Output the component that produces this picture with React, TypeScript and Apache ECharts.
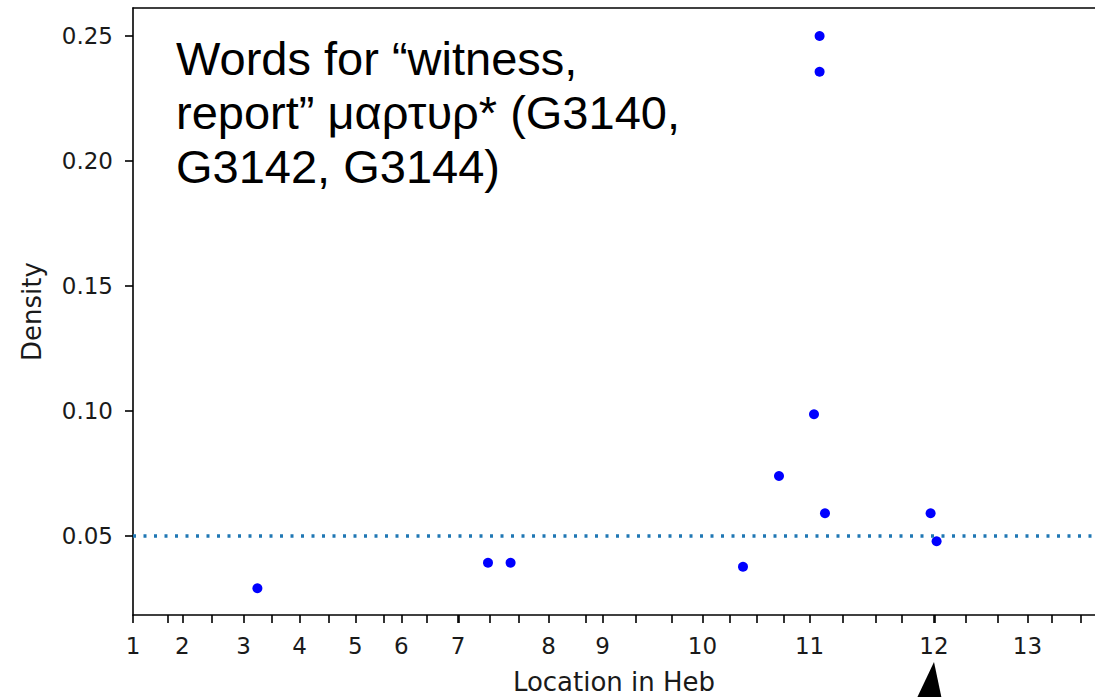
import React, { useEffect, useRef } from "react";
import * as echarts from "echarts";

// Chapter boundaries of Hebrews along the location axis (word index)
const chapterLabels = ["1", "2", "3", "4", "5", "6", "7", "8", "9", "10", "11", "12", "13"];
const chapterStarts = [0, 247, 553, 833, 1112, 1342, 1625, 2078, 2348, 2847, 3383, 4005, 4472];
// Section boundaries (minor ticks)
const sectionStarts = [172, 392, 692, 978, 1255, 1467, 1631, 1784, 1929, 2264, 2512, 2692, 2983, 3117, 3255, 3550, 3714, 3842, 4011, 4162, 4325, 4595, 4739];

// Occurrences: location and local density
const locations = [622, 1775, 1888, 3050, 3230, 3405, 3433, 3433, 3460, 3988, 4018];
const densities = [0.0291, 0.0393, 0.0393, 0.0377, 0.074, 0.0987, 0.25, 0.2357, 0.0591, 0.0591, 0.0479];

const referenceDensity = 0.0495;
const yTicks = [0.05, 0.1, 0.15, 0.2, 0.25];
const annotationLines = ["Words for “witness,", "report” μαρτυρ* (G3140,", "G3142, G3144)"];

const X_MIN = 0;
const X_MAX = 4810;
const Y_MIN = 0.0184;
const Y_MAX = 0.2612;

export default function App() {
  const ref = useRef<HTMLDivElement>(null);

  useEffect(() => {
    if (!ref.current) return;
    const chart = echarts.init(ref.current, undefined, { renderer: "svg" });
    const tickFont = { fontFamily: "DejaVu Sans", fontSize: 23, color: "#1a1a1a" };
    const points = locations.map((x, i) => [x, densities[i]]);

    chart.setOption({
      animation: false,
      backgroundColor: "#fff",
      grid: { left: 133, top: 8, right: 0, bottom: 82, outerBoundsMode: "none" },
      xAxis: [
        {
          type: "value",
          position: "bottom",
          min: X_MIN,
          max: X_MAX,
          splitLine: { show: false },
          axisLine: { show: true, onZero: false, lineStyle: { color: "#000", width: 1.6 } },
          axisTick: { show: true, customValues: chapterStarts, length: 8, lineStyle: { color: "#000", width: 1.6 } },
          axisLabel: {
            show: true,
            customValues: chapterStarts,
            margin: 19,
            ...tickFont,
            formatter: (v: number) => {
              let best = 0;
              chapterStarts.forEach((c, i) => {
                if (Math.abs(c - v) < Math.abs(chapterStarts[best] - v)) best = i;
              });
              return chapterLabels[best];
            },
          },
          name: "Location in Heb",
          nameLocation: "middle",
          nameGap: 54,
          nameTextStyle: { fontFamily: "DejaVu Sans", fontSize: 26, color: "#1a1a1a" },
        },
        {
          type: "value",
          position: "bottom",
          min: X_MIN,
          max: X_MAX,
          splitLine: { show: false },
          axisLine: { show: false, onZero: false },
          axisTick: { show: true, customValues: sectionStarts, length: 8, lineStyle: { color: "#000", width: 1.6 } },
          axisLabel: { show: false },
        },
        {
          type: "value",
          position: "top",
          min: X_MIN,
          max: X_MAX,
          splitLine: { show: false },
          axisLine: { show: true, onZero: false, lineStyle: { color: "#000", width: 1.6 } },
          axisTick: { show: false },
          axisLabel: { show: false },
        },
      ],
      yAxis: {
        type: "value",
        min: Y_MIN,
        max: Y_MAX,
        splitLine: { show: false },
        axisLine: { show: true, onZero: false, lineStyle: { color: "#000", width: 1.6 } },
        axisTick: { show: true, customValues: yTicks, length: 8, lineStyle: { color: "#000", width: 1.6 } },
        axisLabel: {
          show: true,
          customValues: yTicks,
          margin: 20,
          ...tickFont,
          formatter: (v: number) => v.toFixed(2),
        },
        name: "Density",
        nameLocation: "middle",
        nameGap: 88,
        nameTextStyle: { fontFamily: "DejaVu Sans", fontSize: 26, color: "#1a1a1a" },
      },
      series: [
        {
          type: "scatter",
          xAxisIndex: 0,
          yAxisIndex: 0,
          data: points,
          symbol: "circle",
          symbolSize: 10,
          itemStyle: { color: "#0000ff", opacity: 1 },
          markLine: {
            silent: true,
            symbol: "none",
            label: { show: false },
            lineStyle: { color: "#1f77b4", width: 3.5, type: [3, 7.5], opacity: 1 },
            data: [{ yAxis: referenceDensity }],
          },
        },
      ],
      graphic: [
        {
          type: "text",
          left: 176,
          top: 31,
          style: {
            text: annotationLines.join("\n"),
            fontFamily: "Liberation Sans, Arial",
            fontSize: 47,
            lineHeight: 54,
            fill: "#000",
          },
        },
        {
          type: "polygon",
          shape: { points: [[934, 662], [916, 700], [942, 700]] },
          style: { fill: "#000" },
        },
      ],
    });
    return () => chart.dispose();
  }, []);

  return (
    <div
      ref={ref}
      style={{ position: "absolute", left: 0, top: 0, width: 1095, height: 697 }}
    />
  );
}
